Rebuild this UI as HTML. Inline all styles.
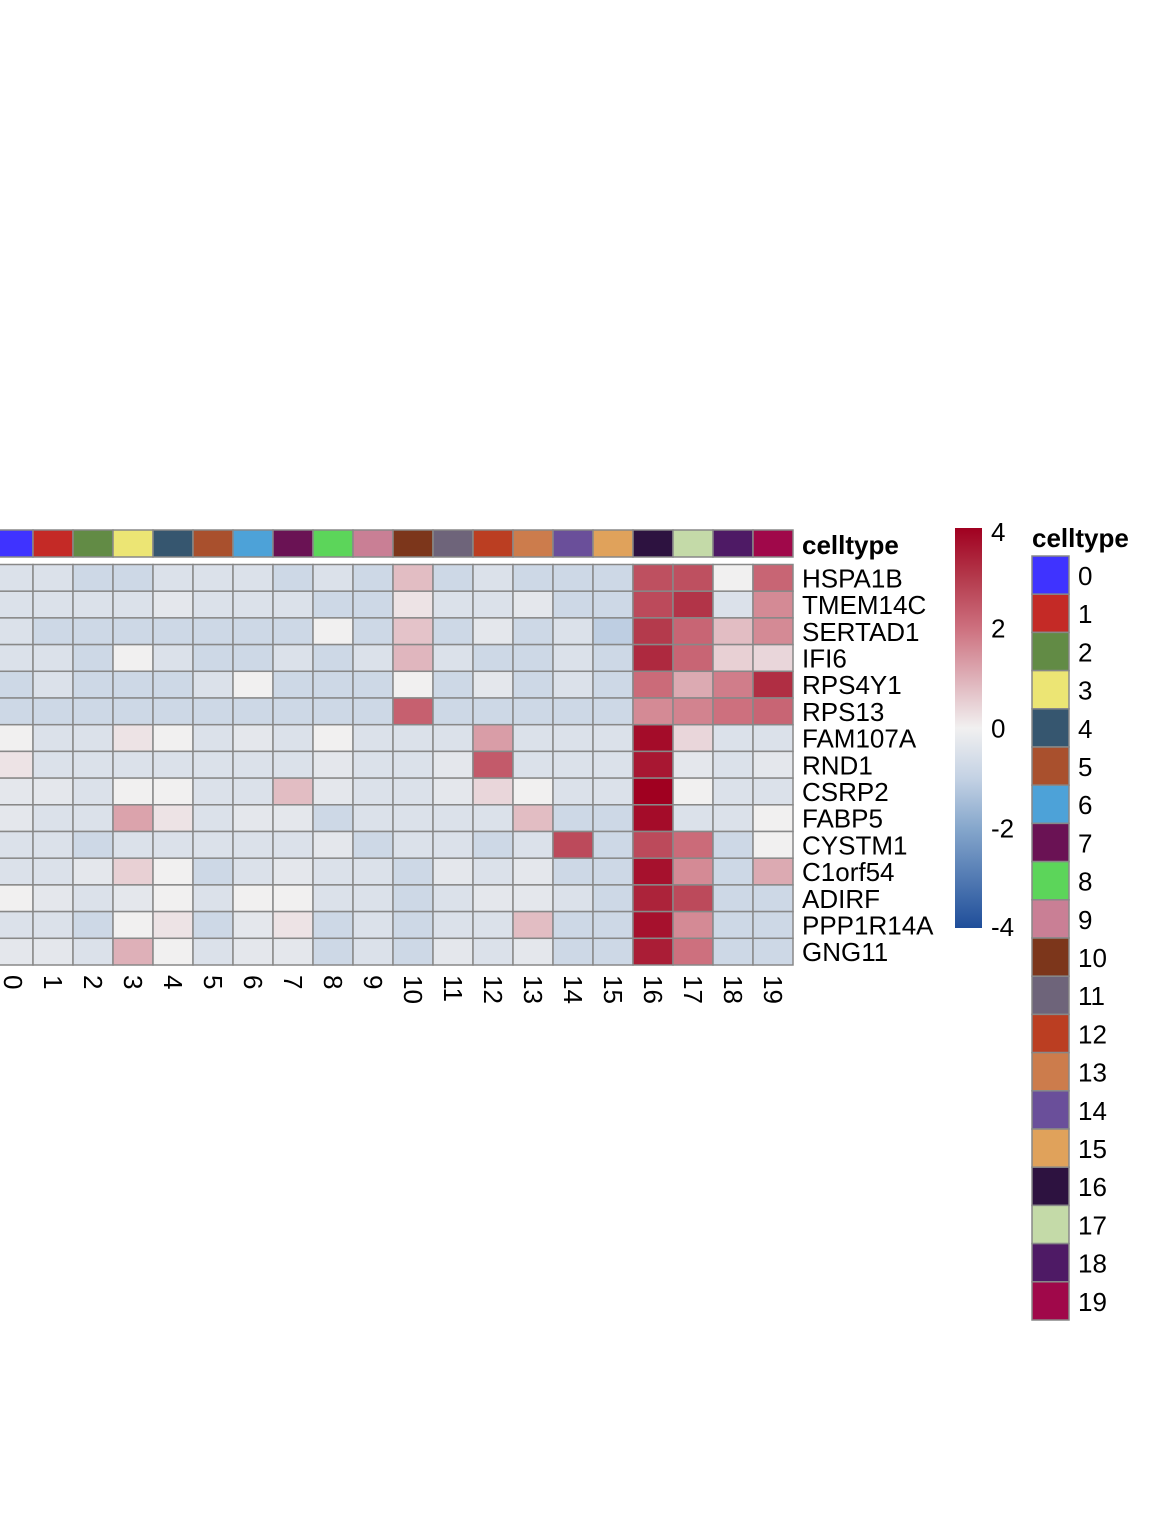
<!DOCTYPE html>
<html><head><meta charset="utf-8"><style>
html,body{margin:0;padding:0;background:#fff;}
svg{display:block;font-family:"Liberation Sans",Arial,sans-serif;}
</style></head><body>
<svg id="chart" width="1152" height="1536" viewBox="0 0 1152 1536"></svg>
<script>
const clusters = ["0","1","2","3","4","5","6","7","8","9","10","11","12","13","14","15","16","17","18","19"];
const genes = ["HSPA1B","TMEM14C","SERTAD1","IFI6","RPS4Y1","RPS13","FAM107A","RND1","CSRP2","FABP5","CYSTM1","C1orf54","ADIRF","PPP1R14A","GNG11"];
const values = [
[-0.5,-0.5,-0.8,-0.8,-0.5,-0.5,-0.5,-0.8,-0.5,-0.8,0.8,-0.8,-0.5,-0.8,-0.8,-0.8,2.6,2.6,0,2.2],
[-0.5,-0.5,-0.5,-0.5,-0.3,-0.5,-0.5,-0.5,-0.8,-0.8,0.2,-0.5,-0.5,-0.3,-0.8,-0.8,2.7,3.1,-0.5,1.6],
[-0.5,-0.8,-0.8,-0.8,-0.8,-0.8,-0.8,-0.8,0,-0.8,0.7,-0.8,-0.3,-0.8,-0.5,-1.1,3.0,2.2,0.8,1.6],
[-0.5,-0.5,-0.8,0,-0.5,-0.8,-0.8,-0.5,-0.8,-0.5,0.9,-0.5,-0.8,-0.8,-0.5,-0.8,3.3,2.2,0.5,0.4],
[-0.8,-0.5,-0.8,-0.8,-0.8,-0.5,0,-0.8,-0.8,-0.8,0,-0.8,-0.3,-0.8,-0.5,-0.8,2.1,1.1,1.8,3.2],
[-0.8,-0.8,-0.8,-0.8,-0.8,-0.8,-0.8,-0.8,-0.8,-0.8,2.3,-0.8,-0.8,-0.8,-0.8,-0.8,1.6,1.7,2.0,2.2],
[0,-0.5,-0.5,0.2,0,-0.5,-0.3,-0.5,0,-0.5,-0.5,-0.5,1.3,-0.5,-0.5,-0.5,3.8,0.4,-0.5,-0.5],
[0.2,-0.5,-0.5,-0.5,-0.5,-0.5,-0.5,-0.5,-0.3,-0.5,-0.5,-0.3,2.4,-0.5,-0.5,-0.5,3.6,-0.3,-0.5,-0.3],
[-0.3,-0.3,-0.5,0,0,-0.5,-0.5,0.8,-0.3,-0.5,-0.5,-0.3,0.4,0,-0.5,-0.5,4,0,-0.5,-0.5],
[-0.3,-0.5,-0.5,1.2,0.2,-0.5,-0.3,-0.3,-0.8,-0.5,-0.5,-0.5,-0.5,0.8,-0.8,-0.8,3.8,-0.5,-0.5,0],
[-0.5,-0.5,-0.8,-0.5,-0.5,-0.5,-0.5,-0.5,-0.3,-0.8,-0.5,-0.5,-0.8,-0.5,2.7,-0.8,2.7,2.1,-0.8,0],
[-0.5,-0.5,-0.3,0.5,0,-0.8,-0.5,-0.3,-0.5,-0.5,-0.8,-0.3,-0.5,-0.3,-0.8,-0.8,3.7,1.6,-0.8,1.1],
[0,-0.3,-0.5,-0.3,0,-0.5,0,0,-0.5,-0.5,-0.8,-0.5,-0.3,-0.3,-0.5,-0.8,3.4,2.7,-0.8,-0.8],
[-0.5,-0.5,-0.8,0,0.2,-0.8,-0.3,0.2,-0.8,-0.5,-0.8,-0.5,-0.5,0.8,-0.8,-0.8,3.7,1.6,-0.8,-0.8],
[-0.3,-0.3,-0.5,1.0,0,-0.5,-0.3,-0.3,-0.8,-0.5,-0.8,-0.3,-0.5,-0.3,-0.8,-0.8,3.5,2.0,-0.8,-0.8]
];
const clusterColors = ["#3f33ff","#c42a26","#628b45","#ece574","#36566f","#a9502d","#4da2d8","#6a1254","#5cd55a","#c97f95","#7c361b","#6e647a","#bb3e22","#cc7c4c","#6a4f9a","#e0a25b","#2d1240","#c4daa8","#4e1a65","#a0084a"];
const scaleTicks = [4,2,0,-2,-4];

const NS="http://www.w3.org/2000/svg";
const svg=document.getElementById('chart');
function mk(tag,attrs,parent){const e=document.createElementNS(NS,tag);for(const k in attrs)e.setAttribute(k,attrs[k]);(parent||svg).appendChild(e);return e;}
const stops=[[-4,[31,78,154]],[-2,[134,167,204]],[-1,[196,210,228]],[0,[241,240,240]],[1,[222,176,184]],[2,[205,112,126]],[3,[180,58,76]],[4,[160,0,32]]];
function color(v){v=Math.max(-4,Math.min(4,v));for(let i=0;i<stops.length-1;i++){const [a,ca]=stops[i],[b,cb]=stops[i+1];if(v<=b){const t=(v-a)/(b-a);return 'rgb('+ca.map((c,j)=>Math.round(c+(cb[j]-c)*t)).join(',')+')';}}return 'rgb(160,0,32)';}
const FS=26;
const x0=-7,cw=40,y0=564.5,rh=26.7;
const xs=i=>x0+i*cw, ys=r=>y0+r*rh;

clusters.forEach((c,i)=>{
  const r=mk('rect',{x:xs(i),y:530,width:cw,height:27,fill:clusterColors[i],stroke:'#888','stroke-width':1.5});
  
  
});
const at=mk('text',{x:802,y:554,'font-size':FS,'font-weight':'bold',fill:'#000'});at.textContent='celltype';



genes.forEach((g,r)=>{
  clusters.forEach((c,i)=>{
    const e=mk('rect',{x:xs(i),y:ys(r),width:cw,height:rh,fill:color(values[r][i]),stroke:'#888','stroke-width':1.5});
    
    
  });
  const t=mk('text',{x:802,y:ys(r)+rh/2+9.5,'font-size':FS,fill:'#000'});t.textContent=g;
  
  
});
clusters.forEach((c,i)=>{
  const cx=xs(i)+cw/2;
  const t=mk('text',{x:cx,y:975,'font-size':FS,fill:'#000',transform:'rotate(90 '+cx+' 975)','dominant-baseline':'central'});
  t.textContent=c;
  
  
});

const defs=mk('defs',{});const lg=mk('linearGradient',{id:'cg',x1:0,y1:1,x2:0,y2:0},defs);
stops.forEach(([v,c])=>mk('stop',{offset:((v+4)/8),'stop-color':'rgb('+c.join(',')+')'},lg));
const cb=mk('rect',{x:955,y:528,width:27,height:400,fill:'url(#cg)'});


scaleTicks.forEach(v=>{
  const y=528+(4-v)/8*400;
  const t=mk('text',{x:991,y:Math.min(Math.max(y+9.5,541),936),'font-size':FS,fill:'#000'});t.textContent=v;
  
  
});

const lt=mk('text',{x:1032,y:547,'font-size':FS,'font-weight':'bold',fill:'#000'});lt.textContent='celltype';


clusters.forEach((c,i)=>{
  const y=556+i*38.2;
  const r=mk('rect',{x:1032,y:y,width:37,height:38.2,fill:clusterColors[i],stroke:'#888','stroke-width':1.5});
  
  
  const t=mk('text',{x:1078,y:y+29,'font-size':FS,fill:'#000'});t.textContent=c;
  
  
});
</script>
</body></html>
